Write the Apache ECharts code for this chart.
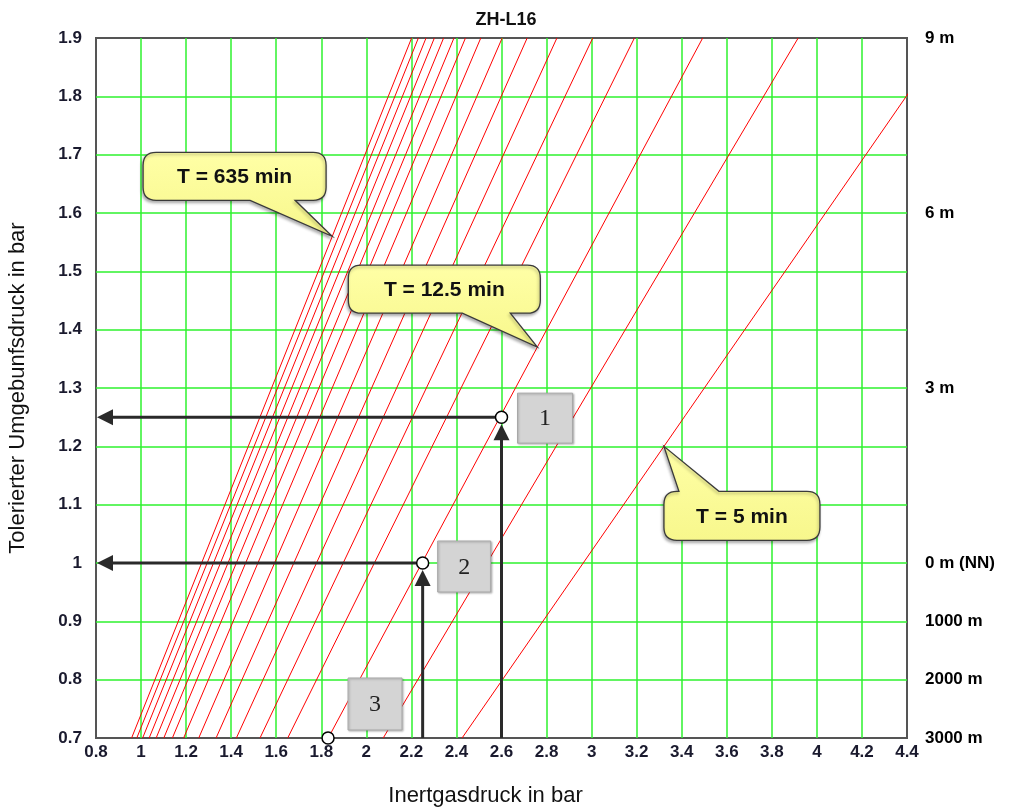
<!DOCTYPE html>
<html>
<head>
<meta charset="utf-8">
<title>ZH-L16</title>
<script src="https://cdn.jsdelivr.net/npm/echarts@6/dist/echarts.min.js"></script>
<style>
  html, body { margin: 0; padding: 0; background: #fff; }
  #chart { width: 1014px; height: 807px; }
</style>
</head>
<body>
<div id="chart"></div>
<script>
// ZH-L16 compartments: half-time (min) and the M-value line of each one,
// given as the inert gas pressure (bar) at ambient 0.7 bar and at 1.9 bar.
const halfTimes   = [5, 8, 12.5, 18.5, 27, 38.3, 54.3, 77, 109, 146, 187, 239, 305, 390, 498, 635];
const inertAtLow  = [2.425, 2.075, 1.831, 1.651, 1.528, 1.423, 1.333, 1.256, 1.189, 1.139, 1.101, 1.067, 1.036, 1.007, 0.981, 0.958];
const inertAtHigh = [4.576, 3.917, 3.493, 3.190, 3.005, 2.846, 2.714, 2.603, 2.508, 2.440, 2.389, 2.343, 2.302, 2.265, 2.231, 2.201];
const ambientEnds = [0.7, 1.9];

// Worked read-off examples on the 12.5 min line
const readInert   = [2.6, 2.25, 1.83];
const readAmbient = [1.25, 1.0, 0.7];
const readNames   = ['1', '2', '3'];
const readGuides  = [true, true, false];

// Callouts naming individual compartment lines
const calloutTexts   = ['T = 635 min', 'T = 12.5 min', 'T = 5 min'];
const calloutInert   = [1.848, 2.759, 3.321];
const calloutAmbient = [1.56, 1.37, 1.20];

// Depth / altitude equivalents shown on the right
const depthTicks  = [1.9, 1.6, 1.3, 1.0, 0.9, 0.8, 0.7];
const depthLabels = ['9 m', '6 m', '3 m', '0 m (NN)', '1000 m', '2000 m', '3000 m'];

const X_MIN = 0.8, X_MAX = 4.4, Y_MIN = 0.7, Y_MAX = 1.9;
const SANS = '"Liberation Sans", Arial, sans-serif';
const SERIF = '"Liberation Serif", "Times New Roman", serif';

// Pixel layout of the numbered boxes next to each read-off point: [dx, dy, w, h]
const boxLayout = [[16, -24, 55, 50], [15, -22, 53, 51], [20, -60, 54, 52]];
// Pixel layout of each speech bubble relative to the tip of its tail
const bubbleLayout = [
  { dx: -189, dy: -84, w: 183, h: 48, side: 'bottom', t0: 107, t1: 152 },
  { dx: -189, dy: -82, w: 192, h: 48, side: 'bottom', t0: 114, t1: 162 },
  { dx: 0,    dy: 45,  w: 156, h: 49, side: 'top',    t0: 15,  t1: 55 }
];

function bubblePath(x, y, w, h, r, side, t0, t1, tx, ty) {
  let d = `M${x + r},${y}`;
  if (side === 'top') d += ` L${x + t0},${y} L${tx},${ty} L${x + t1},${y}`;
  d += ` L${x + w - r},${y} Q${x + w},${y} ${x + w},${y + r}`;
  d += ` L${x + w},${y + h - r} Q${x + w},${y + h} ${x + w - r},${y + h}`;
  if (side === 'bottom') d += ` L${x + t1},${y + h} L${tx},${ty} L${x + t0},${y + h}`;
  d += ` L${x + r},${y + h} Q${x},${y + h} ${x},${y + h - r}`;
  d += ` L${x},${y + r} Q${x},${y} ${x + r},${y} Z`;
  return d;
}

const chart = echarts.init(document.getElementById('chart'), null, { renderer: 'canvas' });

const gridGreen = '#2ef22e';
const tickColor = '#1a1a2e';

// One red M-value line per compartment
const mLines = halfTimes.map((t, i) => ({
  name: 'T = ' + t + ' min',
  type: 'line',
  data: [[inertAtLow[i], ambientEnds[0]], [inertAtHigh[i], ambientEnds[1]]],
  symbol: 'none',
  showSymbol: false,
  silent: true,
  clip: true,
  z: 3,
  lineStyle: { color: '#ff0000', width: 1 }
}));

const guideColor = '#2a2a2a';
const R = 6, HEAD_L = 16, HEAD_W = 8;

const readings = {
  type: 'custom',
  clip: false,
  silent: true,
  z: 10,
  data: readInert.map((x, i) => [x, readAmbient[i], i]),
  renderItem: function (params, api) {
    const i = api.value(2);
    const p = api.coord([api.value(0), api.value(1)]);
    const base = api.coord([api.value(0), Y_MIN]);
    const edge = api.coord([X_MIN, api.value(1)]);
    const kids = [];
    if (readGuides[i]) {
      // vertical guide from the pressure axis up to the point
      const tipY = p[1] + R + 1;
      kids.push({ type: 'line', shape: { x1: p[0], y1: base[1], x2: p[0], y2: tipY + HEAD_L - 2 },
        style: { stroke: guideColor, lineWidth: 3 } });
      kids.push({ type: 'polygon', shape: { points: [[p[0], tipY], [p[0] - HEAD_W, tipY + HEAD_L], [p[0] + HEAD_W, tipY + HEAD_L]] },
        style: { fill: guideColor } });
      // horizontal guide from the point to the ambient pressure axis
      const tipX = edge[0] + 1;
      kids.push({ type: 'line', shape: { x1: p[0] - R, y1: p[1], x2: tipX + HEAD_L - 2, y2: p[1] },
        style: { stroke: guideColor, lineWidth: 3 } });
      kids.push({ type: 'polygon', shape: { points: [[tipX, p[1]], [tipX + HEAD_L, p[1] - HEAD_W], [tipX + HEAD_L, p[1] + HEAD_W]] },
        style: { fill: guideColor } });
    }
    kids.push({ type: 'circle', shape: { cx: p[0], cy: p[1], r: R },
      style: { fill: '#fff', stroke: '#000', lineWidth: 1.5 } });
    const b = boxLayout[i];
    kids.push({ type: 'rect', shape: { x: p[0] + b[0], y: p[1] + b[1], width: b[2], height: b[3] },
      style: { fill: '#d4d4d4', stroke: '#a8a8a8', lineWidth: 1,
               shadowBlur: 2, shadowOffsetX: 1, shadowOffsetY: 1, shadowColor: 'rgba(0,0,0,0.25)' } });
    kids.push({ type: 'text', style: { text: readNames[i], x: p[0] + b[0] + b[2] / 2, y: p[1] + b[1] + b[3] / 2 + 1,
      align: 'center', verticalAlign: 'middle', font: '24px ' + SERIF, fill: '#222' } });
    return { type: 'group', children: kids };
  }
};

const bubbles = {
  type: 'custom',
  clip: false,
  silent: true,
  z: 12,
  data: calloutInert.map((x, i) => [x, calloutAmbient[i], i]),
  renderItem: function (params, api) {
    const i = api.value(2);
    const tip = api.coord([api.value(0), api.value(1)]);
    const L = bubbleLayout[i];
    const x = tip[0] + L.dx, y = tip[1] + L.dy;
    return {
      type: 'group',
      children: [
        { type: 'path',
          shape: { pathData: bubblePath(x, y, L.w, L.h, 13, L.side, L.t0, L.t1, tip[0], tip[1]) },
          style: {
            fill: new echarts.graphic.LinearGradient(0, 0, 0, 1, [
              { offset: 0, color: '#ffffa6' }, { offset: 1, color: '#f7f78c' }]),
            stroke: '#3a3a3a', lineWidth: 1.3,
            shadowBlur: 3, shadowOffsetX: -1, shadowOffsetY: 2, shadowColor: 'rgba(0,0,0,0.3)'
          } },
        { type: 'text',
          style: { text: calloutTexts[i], x: x + L.w / 2, y: y + L.h / 2 + 1,
                   align: 'center', verticalAlign: 'middle',
                   font: 'bold 21px ' + SANS, fill: '#111' } }
      ]
    };
  }
};

const option = {
  backgroundColor: '#fff',
  animation: false,
  title: {
    text: 'ZH-L16',
    left: 501, top: 6, textAlign: 'center',
    textStyle: { fontFamily: SANS, fontSize: 18, fontWeight: 'bold', color: '#111' }
  },
  grid: {
    left: 96, right: 107, top: 38, bottom: 69,
    containLabel: false, outerBoundsMode: 'none',
    show: true, borderColor: '#555', borderWidth: 2, backgroundColor: '#fff'
  },
  xAxis: {
    type: 'value', min: X_MIN, max: X_MAX, interval: 0.2,
    name: 'Inertgasdruck in bar', nameLocation: 'middle', nameGap: 47,
    nameTextStyle: { fontFamily: SANS, fontSize: 22, color: '#111', padding: [0, 32, 0, 0] },
    axisLine: { show: false }, axisTick: { show: false },
    axisLabel: { margin: 6, fontFamily: SANS, fontSize: 17, fontWeight: 'bold', color: tickColor },
    splitLine: { show: true, showMinLine: false, showMaxLine: false, lineStyle: { color: gridGreen, width: 1.5 } }
  },
  yAxis: [
    {
      type: 'value', min: Y_MIN, max: Y_MAX, interval: 0.1, position: 'left',
      name: 'Tolerierter Umgebunfsdruck in bar', nameLocation: 'middle', nameGap: 67,
      nameTextStyle: { fontFamily: SANS, fontSize: 22, color: '#111' },
      axisLine: { show: false }, axisTick: { show: false },
      axisLabel: { margin: 14, fontFamily: SANS, fontSize: 17, fontWeight: 'bold', color: tickColor },
      splitLine: { show: true, showMinLine: false, showMaxLine: false, lineStyle: { color: gridGreen, width: 1.5 } }
    },
    {
      type: 'value', min: Y_MIN, max: Y_MAX, interval: 0.1, position: 'right',
      axisLine: { show: false }, axisTick: { show: false }, splitLine: { show: false },
      axisLabel: {
        margin: 18, fontFamily: SANS, fontSize: 17, fontWeight: 'bold', color: '#000',
        formatter: function (v) {
          const k = depthTicks.findIndex(t => Math.abs(t - v) < 1e-6);
          return k >= 0 ? depthLabels[k] : '';
        }
      }
    }
  ],
  series: mLines.concat([readings, bubbles])
};

chart.setOption(option);
</script>
</body>
</html>
